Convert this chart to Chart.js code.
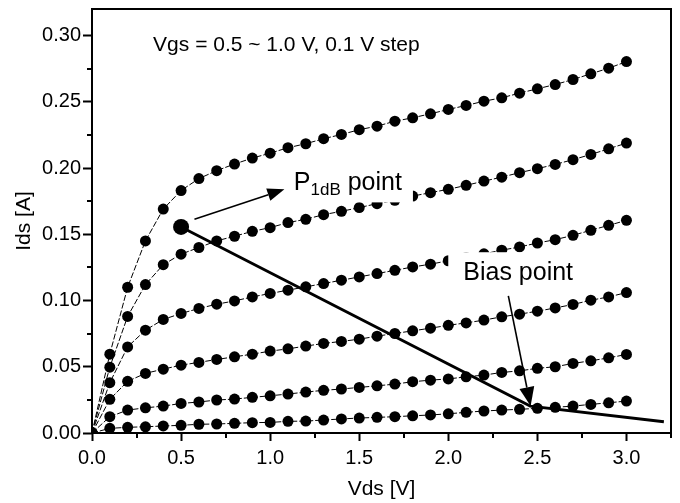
<!DOCTYPE html>
<html>
<head>
<meta charset="utf-8">
<script src="https://cdn.jsdelivr.net/npm/chart.js@4.4.0/dist/chart.umd.min.js"></script>
<style>
  html, body { margin: 0; padding: 0; background: #fff; }
  #wrap { width: 680px; height: 503px; }
</style>
</head>
<body>
<div id="wrap"><canvas id="ivChart"></canvas></div>
<script>
// Vds 掃描點 (V)
const vds = [0, 0.1, 0.2, 0.3, 0.4, 0.5, 0.6, 0.7, 0.8, 0.9, 1.0, 1.1, 1.2, 1.3, 1.4, 1.5,
             1.6, 1.7, 1.8, 1.9, 2.0, 2.1, 2.2, 2.3, 2.4, 2.5, 2.6, 2.7, 2.8, 2.9, 3.0];

// Ids (A)，Vgs = 1.0 V 到 0.5 V
const ids10 = [0, 0.0595, 0.110, 0.145, 0.169, 0.183, 0.192, 0.198, 0.203, 0.2075, 0.2112, 0.2153, 0.2183, 0.2221, 0.2253, 0.2289,
               0.2316, 0.2353, 0.2379, 0.2409, 0.2442, 0.2472, 0.2504, 0.2530, 0.2565, 0.2598, 0.2630, 0.2668, 0.2711, 0.2753, 0.2803];
const ids09 = [0, 0.0497, 0.088, 0.112, 0.127, 0.135, 0.140, 0.145, 0.1485, 0.1522, 0.155, 0.1588, 0.1613, 0.1648, 0.1673, 0.1701,
               0.1731, 0.1756, 0.1788, 0.1814, 0.1839, 0.1869, 0.1901, 0.1931, 0.1965, 0.1995, 0.2027, 0.2063, 0.2102, 0.2145, 0.2188];
const ids08 = [0, 0.038, 0.065, 0.0776, 0.0857, 0.0902, 0.094, 0.0972, 0.0997, 0.1027, 0.1053, 0.1078, 0.1103, 0.1128, 0.1153, 0.1178,
               0.1203, 0.1228, 0.1253, 0.1274, 0.1300, 0.1325, 0.1352, 0.1380, 0.1404, 0.1434, 0.1459, 0.1492, 0.1530, 0.1567, 0.1605];
const ids07 = [0, 0.0254, 0.039, 0.045, 0.0482, 0.0512, 0.0533, 0.0555, 0.0575, 0.0595, 0.0618, 0.0635, 0.0656, 0.0676, 0.0691, 0.0708,
               0.0731, 0.0751, 0.0771, 0.0791, 0.0813, 0.0831, 0.0852, 0.0877, 0.0897, 0.0919, 0.0944, 0.0970, 0.1002, 0.1027, 0.1060];
const ids06 = [0, 0.0123, 0.0173, 0.019, 0.0203, 0.0223, 0.0234, 0.0249, 0.0256, 0.0269, 0.0281, 0.0294, 0.0309, 0.0322, 0.0332, 0.0344,
               0.0356, 0.0369, 0.0387, 0.0399, 0.0408, 0.0424, 0.0437, 0.0457, 0.0469, 0.0488, 0.0500, 0.0525, 0.0545, 0.0567, 0.0593];
const ids05 = [0, 0.0035, 0.0043, 0.0047, 0.0053, 0.0058, 0.0066, 0.0068, 0.0073, 0.0078, 0.0080, 0.0088, 0.0090, 0.0098, 0.0106, 0.0113,
               0.0118, 0.0123, 0.0130, 0.0136, 0.0145, 0.0156, 0.0166, 0.0173, 0.0179, 0.0186, 0.0194, 0.0203, 0.0216, 0.0228, 0.0241];
const curves = [ids10, ids09, ids08, ids07, ids06, ids05];
const vgsNames = ['Vgs 1.0 V', 'Vgs 0.9 V', 'Vgs 0.8 V', 'Vgs 0.7 V', 'Vgs 0.6 V', 'Vgs 0.5 V'];

// 負載線與 P1dB 點
const loadV = [0.5, 2.46, 3.21];
const loadI = [0.1555, 0.0203, 0.0085];
const p1dbV = [0.5];
const p1dbI = [0.1555];

// 箭頭 [起點 V, 起點 I, 終點 V, 終點 I]
const p1dbArrow = [0.575, 0.1613, 1.08, 0.1839];
const biasArrow = [2.337, 0.1035, 2.462, 0.0203];

// 文字位置 (V, I)
const vgsNotePos = [0.343, 0.2886];
const p1dbNotePos = [1.133, 0.1831];
const biasNotePos = [2.084, 0.1153];

// 主刻度
const xMajor = [0, 0.5, 1.0, 1.5, 2.0, 2.5, 3.0];
const yMajor = [0, 0.05, 0.10, 0.15, 0.20, 0.25, 0.30];

const FONT = '"Liberation Sans", Arial, Helvetica, sans-serif';
Chart.defaults.font.family = FONT;
Chart.defaults.color = '#000';

const isIn = (arr, v) => arr.some(m => Math.abs(m - v) < 1e-6);
const toXY = (xs, ys) => xs.map((x, i) => ({ x: x, y: ys[i] }));

function drawArrow(ctx, x1, y1, x2, y2, headLen, headW, lw) {
    const a = Math.atan2(y2 - y1, x2 - x1);
    const bx = x2 - headLen * Math.cos(a), by = y2 - headLen * Math.sin(a);
    ctx.lineWidth = lw;
    ctx.beginPath();
    ctx.moveTo(x1, y1);
    ctx.lineTo(bx, by);
    ctx.stroke();
    ctx.beginPath();
    ctx.moveTo(x2, y2);
    ctx.lineTo(bx + headW / 2 * Math.sin(a), by - headW / 2 * Math.cos(a));
    ctx.lineTo(bx - headW / 2 * Math.sin(a), by + headW / 2 * Math.cos(a));
    ctx.closePath();
    ctx.fill();
}

// 註解、箭頭、外框與次刻度
const decor = {
    id: 'decor',
    afterDatasetsDraw(chart) {
        const ctx = chart.ctx;
        const xs = chart.scales.x, ys = chart.scales.y;
        const px = v => xs.getPixelForValue(v), py = v => ys.getPixelForValue(v);
        ctx.save();
        ctx.fillStyle = '#000';
        ctx.strokeStyle = '#000';
        ctx.textBaseline = 'alphabetic';
        ctx.textAlign = 'left';

        // Vgs 說明
        ctx.font = '21px ' + FONT;
        ctx.fillText('Vgs = 0.5 ~ 1.0 V, 0.1 V step', px(vgsNotePos[0]), py(vgsNotePos[1]));

        // P1dB point（白底）
        let x0 = px(p1dbNotePos[0]), y0 = py(p1dbNotePos[1]);
        ctx.font = '25px ' + FONT;
        const wP = ctx.measureText('P').width;
        ctx.font = '17px ' + FONT;
        const wSub = ctx.measureText('1dB').width;
        ctx.font = '25px ' + FONT;
        const wRest = ctx.measureText(' point').width;
        ctx.fillStyle = '#fff';
        ctx.fillRect(x0 - 5, y0 - 24, wP + wSub + wRest + 16, 36);
        ctx.fillStyle = '#000';
        ctx.fillText('P', x0, y0);
        ctx.font = '17px ' + FONT;
        ctx.fillText('1dB', x0 + wP, y0 + 5);
        ctx.font = '25px ' + FONT;
        ctx.fillText(' point', x0 + wP + wSub, y0);

        // Bias point（白底）
        x0 = px(biasNotePos[0]); y0 = py(biasNotePos[1]);
        const wB = ctx.measureText('Bias point').width;
        ctx.fillStyle = '#fff';
        ctx.fillRect(x0 - 15, y0 - 28, wB + 20, 38);
        ctx.fillStyle = '#000';
        ctx.fillText('Bias point', x0, y0);

        // 箭頭
        drawArrow(ctx, px(p1dbArrow[0]), py(p1dbArrow[1]), px(p1dbArrow[2]), py(p1dbArrow[3]), 17, 13, 1.6);
        drawArrow(ctx, px(biasArrow[0]), py(biasArrow[1]), px(biasArrow[2]), py(biasArrow[3]), 19, 15, 1.6);

        // 外框
        const ca = chart.chartArea;
        ctx.lineWidth = 2;
        ctx.strokeRect(ca.left, ca.top, ca.right - ca.left, ca.bottom - ca.top);

        // 次刻度
        ctx.lineWidth = 2;
        ctx.beginPath();
        xs.ticks.forEach(t => {
            if (isIn(xMajor, t.value)) return;
            const x = Math.round(px(t.value));
            ctx.moveTo(x, ca.bottom);
            ctx.lineTo(x, ca.bottom + 5);
        });
        ys.ticks.forEach(t => {
            if (isIn(yMajor, t.value)) return;
            const y = Math.round(py(t.value));
            ctx.moveTo(ca.left, y);
            ctx.lineTo(ca.left - 5, y);
        });
        ctx.stroke();
        ctx.restore();
    }
};

const datasets = [
    {
        label: 'Load line',
        data: toXY(loadV, loadI),
        borderColor: '#000',
        borderWidth: 2.8,
        pointRadius: 0,
        order: 0
    },
    {
        label: 'P1dB',
        data: toXY(p1dbV, p1dbI),
        showLine: false,
        pointRadius: 8,
        pointBorderWidth: 0,
        pointBackgroundColor: '#000',
        order: 0
    }
].concat(curves.map((c, k) => ({
    label: vgsNames[k],
    data: toXY(vds, c),
    borderColor: '#000',
    borderWidth: 1,
    borderDash: [6, 2],
    pointRadius: 5.5,
    pointBorderWidth: 0,
    pointBackgroundColor: '#000',
    order: 1
})));

const ctx = document.getElementById('ivChart').getContext('2d');
const ivChart = new Chart(ctx, {
    type: 'line',
    data: { datasets: datasets },
    options: {
        responsive: true,
        maintainAspectRatio: false,
        animation: false,
        layout: { padding: { top: 9, right: 9, left: 0, bottom: 0 } },
        elements: { line: { tension: 0 } },
        plugins: { legend: { display: false }, tooltip: { enabled: false } },
        scales: {
            x: {
                type: 'linear',
                min: 0,
                max: 3.25,
                afterFit: s => { s.height = 70; s.paddingLeft = 0; s.paddingRight = 0; },
                ticks: {
                    stepSize: 0.25,
                    autoSkip: false,
                    maxRotation: 0,
                    padding: 5,
                    font: { size: 20 },
                    callback: v => isIn(xMajor, v) ? v.toFixed(1) : ''
                },
                grid: {
                    drawOnChartArea: false,
                    drawTicks: true,
                    tickLength: 8,
                    tickWidth: 2,
                    tickColor: c => isIn(xMajor, c.tick.value) ? '#000' : 'rgba(0,0,0,0)'
                },
                border: { display: false },
                title: { display: true, text: 'Vds [V]', font: { size: 21 }, padding: { top: 0, bottom: 1 } }
            },
            y: {
                type: 'linear',
                min: 0,
                max: 0.32,
                afterFit: s => { s.width = 92; s.paddingTop = 0; s.paddingBottom = 0; },
                ticks: {
                    stepSize: 0.025,
                    includeBounds: false,
                    autoSkip: false,
                    padding: 2,
                    font: { size: 20 },
                    callback: v => isIn(yMajor, v) ? v.toFixed(2) : ''
                },
                grid: {
                    drawOnChartArea: false,
                    drawTicks: true,
                    tickLength: 9,
                    tickWidth: 2,
                    tickColor: c => isIn(yMajor, c.tick.value) ? '#000' : 'rgba(0,0,0,0)'
                },
                border: { display: false },
                title: { display: true, text: 'Ids [A]', font: { size: 21 }, padding: { top: 12, bottom: 0 } }
            }
        }
    },
    plugins: [decor]
});
</script>
</body>
</html>
